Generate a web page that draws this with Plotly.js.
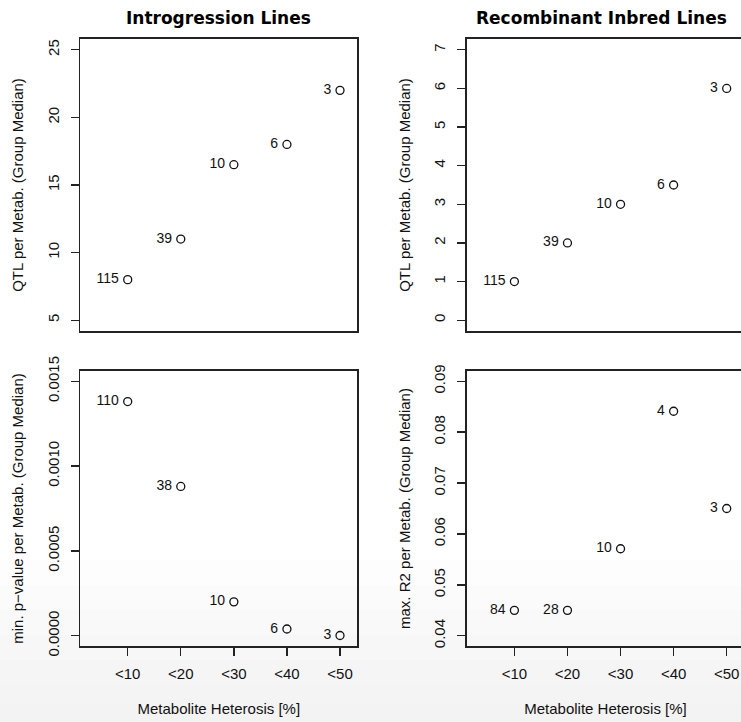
<!DOCTYPE html>
<html>
<head>
<meta charset="utf-8">
<script src="https://cdn.plot.ly/plotly-3.0.1.min.js"></script>
<style>
html,body{margin:0;padding:0;overflow:hidden;background:#fff;}
#chart{width:746px;height:722px;}
</style>
</head>
<body>
<div id="chart"></div>
<script>
// ---- data ----
var categories = ["<10", "<20", "<30", "<40", "<50"];

var ilQtlValues  = [8, 11, 16.5, 18, 22];
var ilQtlCounts  = ["115", "39", "10", "6", "3"];

var rilQtlValues = [1, 2, 3, 3.5, 6];
var rilQtlCounts = ["115", "39", "10", "6", "3"];

var ilPValues    = [0.00138, 0.00088, 0.00020, 0.00004, 0.000002];
var ilPCounts    = ["110", "38", "10", "6", "3"];

var rilR2Values  = [0.045, 0.045, 0.0571, 0.0841, 0.065];
var rilR2Counts  = ["84", "28", "10", "4", "3"];

var ilQtlTicks  = [5, 10, 15, 20, 25];
var rilQtlTicks = [0, 1, 2, 3, 4, 5, 6, 7];
var ilPTicks    = [0, 0.0005, 0.0010, 0.0015];
var ilPTickText = ["0.0000", "0.0005", "0.0010", "0.0015"];
var rilR2Ticks  = [0.04, 0.05, 0.06, 0.07, 0.08, 0.09];
var rilR2TickText = ["0.04", "0.05", "0.06", "0.07", "0.08", "0.09"];

var panelTitles = ["Introgression Lines", "Recombinant Inbred Lines"];
var xTitle = "Metabolite Heterosis [%]";
var yTitles = ["QTL per Metab. (Group Median)", "QTL per Metab. (Group Median)",
               "min. p\u2212value per Metab. (Group Median)", "max. R2 per Metab. (Group Median)"];

// ---- layout geometry ----
var W = 746, H = 722;
var FONT = "Liberation Sans, Arial, sans-serif";
var INK = "#222";
function px(x){ return x / W; }
function py(y){ return 1 - y / H; }

var xL = [px(80.3), px(357.3)];
var xR = [px(467), px(744)];
var yT = [py(331), py(39)];
var yB = [py(646), py(371)];
var xRange = [-0.893, 4.326];

function trace(xa, ya, yv, txt){
  return {
    x: categories, y: yv, text: txt,
    xaxis: xa, yaxis: ya,
    type: "scatter", mode: "markers+text",
    texttemplate: "%{text}\u2009",
    textposition: "middle left",
    textfont: {family: FONT, size: 14, color: "#111"},
    marker: {symbol: "circle-open", size: 8, color: "#111", line: {width: 1.3, color: "#111"}},
    cliponaxis: false,
    hoverinfo: "skip", showlegend: false
  };
}

var data = [
  trace("x", "y", ilQtlValues, ilQtlCounts),
  trace("x2", "y2", rilQtlValues, rilQtlCounts),
  trace("x3", "y3", ilPValues, ilPCounts),
  trace("x4", "y4", rilR2Values, rilR2Counts)
];

function xaxis(dom, anchor, showLabels){
  return {
    domain: dom, anchor: anchor, type: "category", range: xRange,
    showgrid: false, zeroline: false,
    showline: true, mirror: true, linecolor: INK, linewidth: 1.6,
    ticks: showLabels ? "outside" : "", ticklen: 8, tickwidth: 1.3, tickcolor: INK,
    showticklabels: showLabels, ticklabelstandoff: 5,
    tickfont: {family: FONT, size: 15, color: "#111"},
    title: showLabels ? {text: xTitle, font: {family: FONT, size: 15, color: "#111"}, standoff: 23} : {text: ""},
    fixedrange: true
  };
}
function yaxis(dom, anchor, range, tv, tt, title){
  var a = {
    domain: dom, anchor: anchor, range: range,
    showgrid: false, zeroline: false,
    showline: true, mirror: true, linecolor: INK, linewidth: 1.6,
    ticks: "outside", ticklen: 8, tickwidth: 1.3, tickcolor: INK,
    tickmode: "array", tickvals: tv, tickangle: -90,
    ticklabelstandoff: 6,
    tickfont: {family: FONT, size: 15, color: "#111"},
    title: {text: title, font: {family: FONT, size: 15, color: "#111"}, standoff: 17},
    fixedrange: true
  };
  if (tt) a.ticktext = tt;
  return a;
}

// subtle background gradient near the bottom (stepped bands)
var bandTops   = [560, 585, 610, 635, 660, 685, 705];
var bandColors = ["#fdfdfd", "#fbfbfb", "#f9f9f9", "#f7f7f7", "#f5f5f5", "#f4f4f4", "#f3f3f3"];
var shapes = bandTops.map(function(t, i){
  return {type: "rect", xref: "paper", yref: "paper", x0: 0, x1: 1, y0: 0, y1: py(t),
          layer: "below", fillcolor: bandColors[i], line: {width: 0}};
});

var layout = {
  width: W, height: H,
  margin: {l: 0, r: 0, t: 0, b: 0},
  paper_bgcolor: "#ffffff",
  plot_bgcolor: "rgba(0,0,0,0)",
  showlegend: false,
  xaxis:  xaxis(xL, "y", false),
  xaxis2: xaxis(xR, "y2", false),
  xaxis3: xaxis(xL, "y3", true),
  xaxis4: xaxis(xR, "y4", true),
  yaxis:  yaxis(yT, "x", [4.2, 25.8], ilQtlTicks, null, yTitles[0]),
  yaxis2: yaxis(yT, "x2", [-0.28, 7.28], rilQtlTicks, null, yTitles[1]),
  yaxis3: yaxis(yB, "x3", [-0.00006, 0.00156], ilPTicks, ilPTickText, yTitles[2]),
  yaxis4: yaxis(yB, "x4", [0.038, 0.092], rilR2Ticks, rilR2TickText, yTitles[3]),
  annotations: [
    {text: "<b>" + panelTitles[0] + "</b>", xref: "paper", yref: "paper",
     x: (xL[0] + xL[1]) / 2, y: py(18), xanchor: "center", yanchor: "middle", showarrow: false,
     font: {family: "DejaVu Sans, Verdana, sans-serif", size: 17, color: "#000"}},
    {text: "<b>" + panelTitles[1] + "</b>", xref: "paper", yref: "paper",
     x: px(601), y: py(18), xanchor: "center", yanchor: "middle", showarrow: false,
     font: {family: "DejaVu Sans, Verdana, sans-serif", size: 17, color: "#000"}}
  ],
  shapes: shapes
};

Plotly.newPlot("chart", data, layout, {displayModeBar: false, staticPlot: true});
</script>
</body>
</html>
